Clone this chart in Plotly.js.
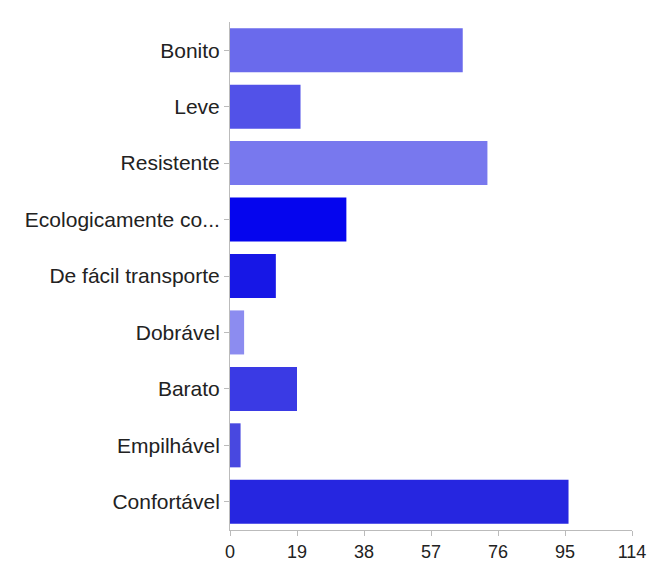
<!DOCTYPE html>
<html>
<head>
<meta charset="utf-8">
<script src="https://cdn.plot.ly/plotly-3.0.1.min.js"></script>
<style>html,body{margin:0;padding:0;background:#fff;}#chart{width:651px;height:566px;}</style>
</head>
<body>
<div id="chart"></div>
<script>
const categories = ["Bonito","Leve","Resistente","Ecologicamente co...","De fácil transporte","Dobrável","Barato","Empilhável","Confortável"];
const values = [66, 20, 73, 33, 13, 4, 19, 3, 96];
const barColors = ["#6a6aec","#5252e8","#7878ee","#0505ee","#1717e6","#8c8cf0","#3a3ae4","#4848e0","#2626e0"];
const tickVals = [0, 19, 38, 57, 76, 95, 114];

const trace = {
  type: "bar",
  orientation: "h",
  y: categories,
  x: values,
  marker: {color: barColors, line: {width: 0}},
  width: 0.78,
  hoverinfo: "x+y"
};

const layout = {
  width: 651,
  height: 566,
  margin: {l: 230, r: 19, t: 22, b: 36},
  paper_bgcolor: "#ffffff",
  plot_bgcolor: "#ffffff",
  showlegend: false,
  font: {family: "Liberation Sans, Arial, sans-serif", color: "#222222", size: 20},
  xaxis: {
    range: [0, 114],
    tickvals: tickVals,
    ticktext: tickVals.map(String),
    showgrid: false,
    zeroline: false,
    showline: true,
    linecolor: "#bbbbbb",
    linewidth: 1,
    ticks: "outside",
    ticklen: 5,
    tickcolor: "#bbbbbb",
    tickfont: {size: 18, color: "#222222"}
  },
  yaxis: {
    autorange: "reversed",
    type: "category",
    showgrid: false,
    zeroline: false,
    showline: true,
    linecolor: "#bbbbbb",
    linewidth: 1,
    ticks: "outside",
    ticklen: 5,
    tickcolor: "#bbbbbb",
    tickfont: {size: 21, color: "#222222"}
  }
};

Plotly.newPlot("chart", [trace], layout, {displayModeBar: false, staticPlot: true});
</script>
</body>
</html>
